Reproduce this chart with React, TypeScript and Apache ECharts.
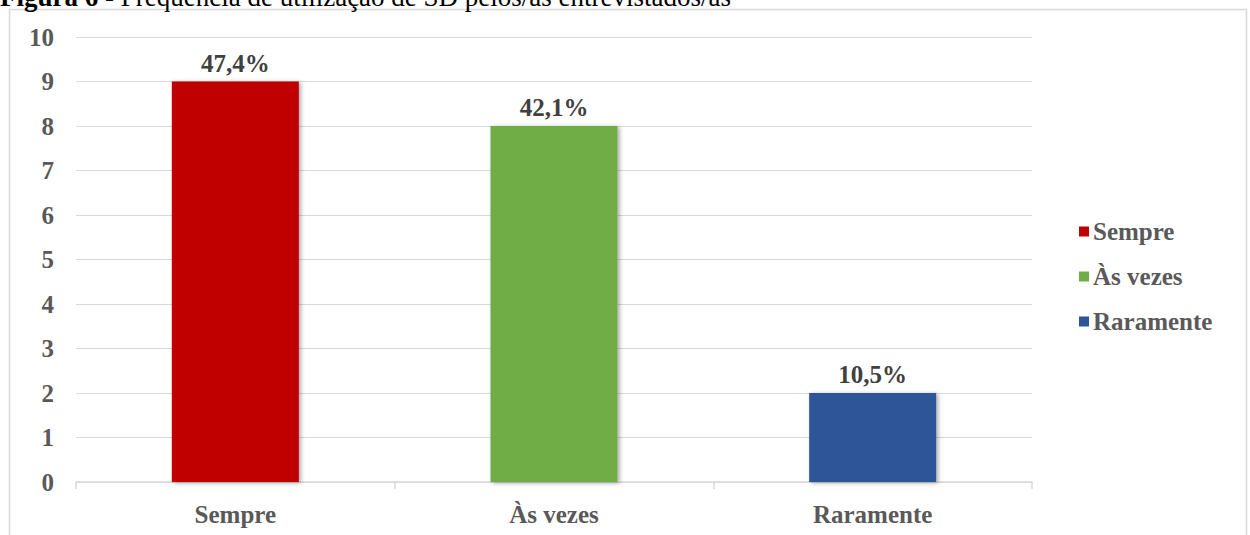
import React, { useEffect, useRef } from "react";
import * as echarts from "echarts";

const categories = ["Sempre", "Às vezes", "Raramente"];
const seriesNames = ["Sempre", "Às vezes", "Raramente"];
const counts = [9, 8, 2];
const percentLabels = ["47,4%", "42,1%", "10,5%"];
const colors = ["#C00000", "#70AD47", "#2F5597"];
const yTicks = [0, 10, 1];

export default function App() {
  const ref = useRef<HTMLDivElement>(null);
  useEffect(() => {
    if (!ref.current) return;
    const chart = echarts.init(ref.current, null, { renderer: "svg" });
    const font = "'Liberation Serif', 'Times New Roman', serif";
    const fs = 25;
    const series = seriesNames.map((name, i) => ({
      name,
      type: "bar",
      stack: "all",
      barWidth: 127,
      data: categories.map((_, j) => (j === i ? counts[i] : "-")),
      itemStyle: {
        color: colors[i],
        shadowBlur: 4,
        shadowColor: "rgba(0,0,0,0.35)",
        shadowOffsetX: 2,
        shadowOffsetY: 1,
      },
      label: {
        show: true,
        position: "top",
        distance: 6,
        formatter: () => percentLabels[i],
        fontFamily: font,
        fontWeight: "bold",
        fontSize: fs,
        color: "#404040",
      },
    }));
    chart.setOption({
      animation: false,
      textStyle: { fontFamily: font },
      graphic: [
        {
          type: "rect",
          shape: { x: 9.5, y: 9.5, width: 1237, height: 540 },
          style: { fill: "none", stroke: "#d9d9d9", lineWidth: 1.5 },
          silent: true,
        },
        {
          type: "text",
          left: 0,
          top: -17,
          style: {
            text: "{b|Figura 6} - Frequência de utilização de SD pelos/as entrevistados/as",
            fontFamily: font,
            fontSize: 27,
            fill: "#000",
            rich: {
              b: { fontFamily: font, fontSize: 27, fontWeight: "bold", fill: "#000" },
            },
          },
        },
      ],
      grid: { left: 76, right: 218, top: 37, bottom: 53, containLabel: false },
      legend: {
        orient: "vertical",
        left: 1074,
        top: 214,
        itemWidth: 10,
        itemHeight: 10,
        itemGap: 20,
        icon: "rect",
        data: seriesNames,
        textStyle: {
          fontFamily: font,
          fontWeight: "bold",
          fontSize: fs,
          color: "#595959",
          padding: [0, 0, 0, -1],
        },
      },
      xAxis: {
        type: "category",
        data: categories,
        axisLine: { lineStyle: { color: "#d9d9d9", width: 1.5 } },
        axisTick: { show: true, length: 7, lineStyle: { color: "#d9d9d9", width: 1.5 } },
        axisLabel: {
          margin: 20,
          fontFamily: font,
          fontWeight: "bold",
          fontSize: fs,
          color: "#595959",
        },
      },
      yAxis: {
        type: "value",
        min: yTicks[0],
        max: yTicks[1],
        interval: yTicks[2],
        axisLine: { show: false },
        axisTick: { show: false },
        splitLine: { lineStyle: { color: "#d9d9d9", width: 1 } },
        axisLabel: {
          margin: 22,
          fontFamily: font,
          fontWeight: "bold",
          fontSize: fs,
          color: "#595959",
        },
      },
      series,
    });
    return () => chart.dispose();
  }, []);
  return (
    <div
      ref={ref}
      style={{ position: "absolute", left: 0, top: 0, width: 1250, height: 535, background: "#fff" }}
    />
  );
}
